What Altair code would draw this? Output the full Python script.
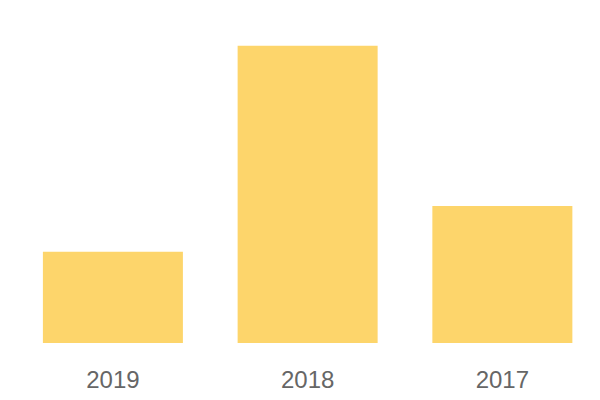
import altair as alt
import pandas as pd

years = ["2019", "2018", "2017"]
values = [30.7, 100, 46.1]

df = pd.DataFrame({"year": years, "value": values})

chart = alt.Chart(df).mark_bar(color="#FDD56B").encode(
    x=alt.X("year:N", sort=years,
            scale=alt.Scale(paddingInner=0.281, paddingOuter=0.140, align=0.64),
            axis=alt.Axis(title=None, domain=False, ticks=False, labelAngle=0,
                          labelFontSize=24, labelColor="#666666", labelFont="Liberation Sans",
                          labelPadding=25)),
    y=alt.Y("value:Q", scale=alt.Scale(domain=[0, 112.7], nice=False), axis=None),
).properties(
    width=584, height=335,
    autosize=alt.AutoSizeParams(type="none"),
    padding={"left": 0, "top": 0, "right": 0, "bottom": 49},
).configure_view(stroke=None)

chart.save("out.html", embed_options={"renderer": "svg", "actions": False})
